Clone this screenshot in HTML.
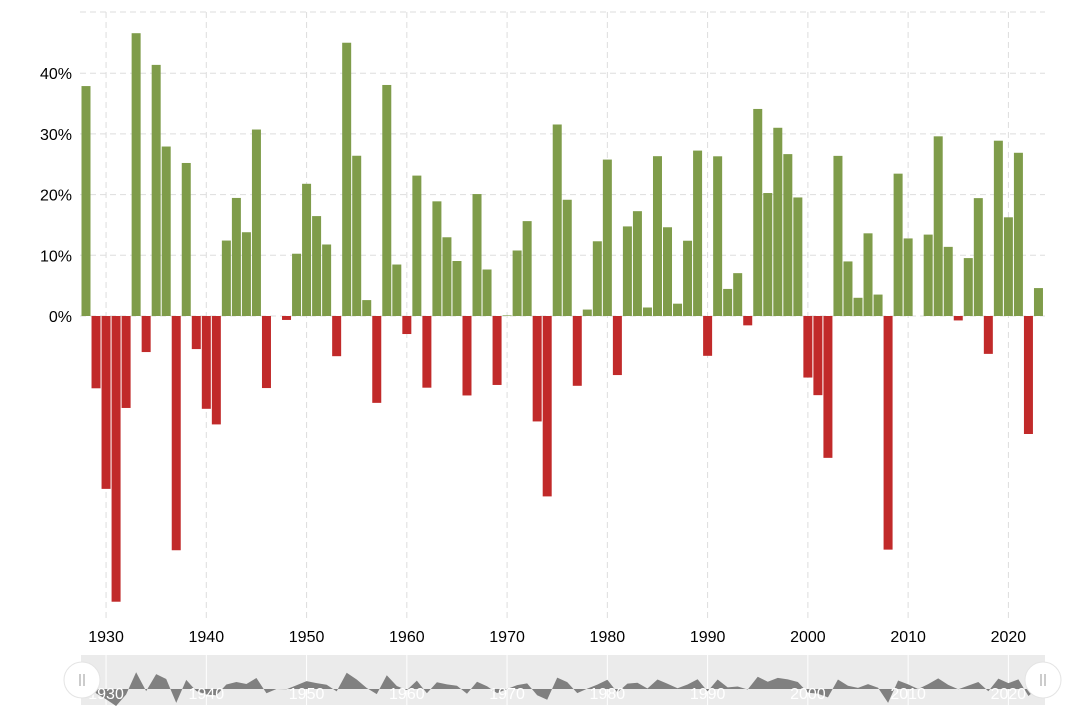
<!DOCTYPE html>
<html><head><meta charset="utf-8"><style>
html,body{margin:0;padding:0;background:#fff;}
svg{display:block;font-family:"Liberation Sans","DejaVu Sans",sans-serif;}
</style></head><body>
<svg id="chart" width="1067" height="718"></svg>
<script>
const years=[];for(let y=1928;y<=2023;y++)years.push(y);
const returns=[37.88,-11.91,-28.48,-47.07,-15.15,46.59,-5.94,41.37,27.92,-38.59,25.21,-5.45,-15.29,-17.86,12.43,19.45,13.80,30.72,-11.87,0.00,-0.65,10.26,21.78,16.46,11.78,-6.62,45.02,26.40,2.62,-14.31,38.06,8.48,-2.97,23.13,-11.81,18.89,12.97,9.06,-13.09,20.09,7.66,-11.36,0.10,10.79,15.63,-17.37,-29.72,31.55,19.15,-11.50,1.06,12.31,25.77,-9.73,14.76,17.27,1.40,26.33,14.62,2.03,12.40,27.25,-6.56,26.31,4.46,7.06,-1.54,34.11,20.26,31.01,26.67,19.53,-10.14,-13.04,-23.37,26.38,8.99,3.00,13.62,3.53,-38.49,23.45,12.78,0.00,13.41,29.60,11.39,-0.73,9.54,19.42,-6.24,28.88,16.26,26.89,-19.44,4.6];
const yTicks=[0,10,20,30,40];
const xTicks=[1930,1940,1950,1960,1970,1980,1990,2000,2010,2020];
const NS="http://www.w3.org/2000/svg";
const svg=document.getElementById('chart');
function xs(y){return 86+(y-1928)*10.026;}
function ys(v){return 316-v*6.07;}
function nys(v){return 689-v*0.36;}
function mk(t,a,p){const e=document.createElementNS(NS,t);for(const k in a)e.setAttribute(k,a[k]);(p||svg).appendChild(e);return e;}
const grid=mk('g',{});


[...yTicks,50].forEach(v=>{const yy=v===50?12:ys(v);mk('line',{x1:80,x2:1045,y1:yy,y2:yy,stroke:'#ddd','stroke-dasharray':'6,4'},grid);});
xTicks.forEach(t=>mk('line',{x1:xs(t),x2:xs(t),y1:12,y2:622,stroke:'#ddd','stroke-dasharray':'6,4'},grid));
yTicks.forEach(v=>{const t=mk('text',{x:72,y:ys(v)+6,'text-anchor':'end','font-size':16,fill:'#000'});t.textContent=v+'%';

});
xTicks.forEach(v=>{const t=mk('text',{x:xs(v),y:642,'text-anchor':'middle','font-size':16,fill:'#000'});t.textContent=v;

});
returns.forEach((r,i)=>{const x=xs(years[i]);const top=r>=0?ys(r):ys(0);const h=Math.abs(ys(r)-ys(0));
const b=mk('rect',{x:x-4.5,y:top,width:9,height:Math.max(h,0),fill:r>=0?'#7f9c4a':'#c12a2a'});

});
const nav=mk('g',{});


mk('rect',{x:81,y:655,width:964,height:50,fill:'#ebebeb'},nav);
xTicks.forEach(v=>{mk('line',{x1:xs(v),x2:xs(v),y1:655,y2:705,stroke:'#fff'},nav);});
let d='M'+xs(1928)+','+nys(0);
returns.forEach((r,i)=>{d+=' L'+xs(years[i])+','+nys(r);});
d+=' L'+xs(2023)+','+nys(0)+' Z';
mk('path',{d:d,fill:'#808080'},nav);
xTicks.forEach(v=>{const t=mk('text',{x:xs(v),y:699,'text-anchor':'middle','font-size':16,fill:'#fff'},nav);t.textContent=v;});
[82,1043].forEach((hx,i)=>{const h=mk('g',{},nav);


mk('circle',{cx:hx,cy:680,r:18,fill:'#fff',stroke:'#e4e4e4'},h);
mk('line',{x1:hx-2,x2:hx-2,y1:674,y2:686,stroke:'#999'},h);
mk('line',{x1:hx+2,x2:hx+2,y1:674,y2:686,stroke:'#999'},h);});
</script>
</body></html>
